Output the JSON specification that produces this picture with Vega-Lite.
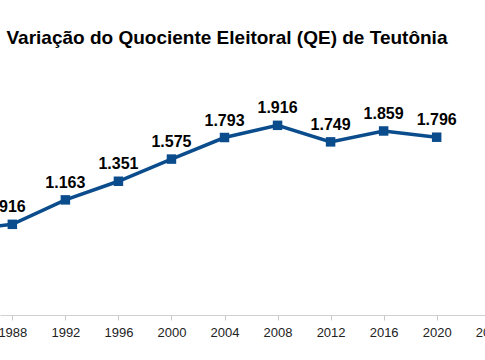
{
  "$schema": "https://vega.github.io/schema/vega-lite/v6.json",
  "autosize": {"type": "none"},
  "width": 560,
  "height": 255,
  "padding": {"left": 0, "top": 60, "right": -75, "bottom": 45},
  "config": {
    "view": {"stroke": null},
    "locale": {"number": {"decimal": ",", "thousands": ".", "grouping": [3], "currency": ["R$", ""]}}
  },
  "title": {
    "text": "Variação do Quociente Eleitoral (QE) de Teutônia",
    "anchor": "start",
    "frame": "group",
    "font": "Liberation Sans",
    "fontSize": 19,
    "fontWeight": "bold",
    "color": "#000000",
    "dx": 6.5,
    "dy": -8
  },
  "data": {
    "values": [
      {"ano": 1982, "qe": 820},
      {"ano": 1988, "qe": 916},
      {"ano": 1992, "qe": 1163},
      {"ano": 1996, "qe": 1351},
      {"ano": 2000, "qe": 1575},
      {"ano": 2004, "qe": 1793},
      {"ano": 2008, "qe": 1916},
      {"ano": 2012, "qe": 1749},
      {"ano": 2016, "qe": 1859},
      {"ano": 2020, "qe": 1796}
    ]
  },
  "encoding": {
    "x": {
      "field": "ano",
      "type": "quantitative",
      "scale": {"domain": [1987.07, 2029.3], "nice": false, "zero": false},
      "axis": {
        "title": null,
        "values": [1988, 1992, 1996, 2000, 2004, 2008, 2012, 2016, 2020, 2024],
        "format": "d",
        "grid": false,
        "domainColor": "#d0d0d0",
        "domainWidth": 1,
        "tickColor": "#c8c8c8",
        "tickSize": 5,
        "labelFont": "Liberation Sans",
        "labelFontSize": 13,
        "labelColor": "#222222",
        "labelPadding": 6,
        "labelOverlap": false,
        "labelFlush": false
      }
    },
    "y": {
      "field": "qe",
      "type": "quantitative",
      "scale": {"domain": [0, 2576], "nice": false},
      "axis": null
    }
  },
  "layer": [
    {
      "mark": {"type": "line", "color": "#0b4d8c", "strokeWidth": 3.5, "clip": true}
    },
    {
      "mark": {"type": "point", "shape": "square", "filled": true, "size": 90, "color": "#0b4d8c", "opacity": 1, "clip": true}
    },
    {
      "mark": {"type": "text", "font": "Liberation Sans", "fontSize": 16, "fontWeight": "bold", "color": "#000000", "baseline": "alphabetic", "dy": -12},
      "encoding": {
        "text": {"field": "qe", "type": "quantitative", "format": ",d"}
      }
    }
  ]
}
